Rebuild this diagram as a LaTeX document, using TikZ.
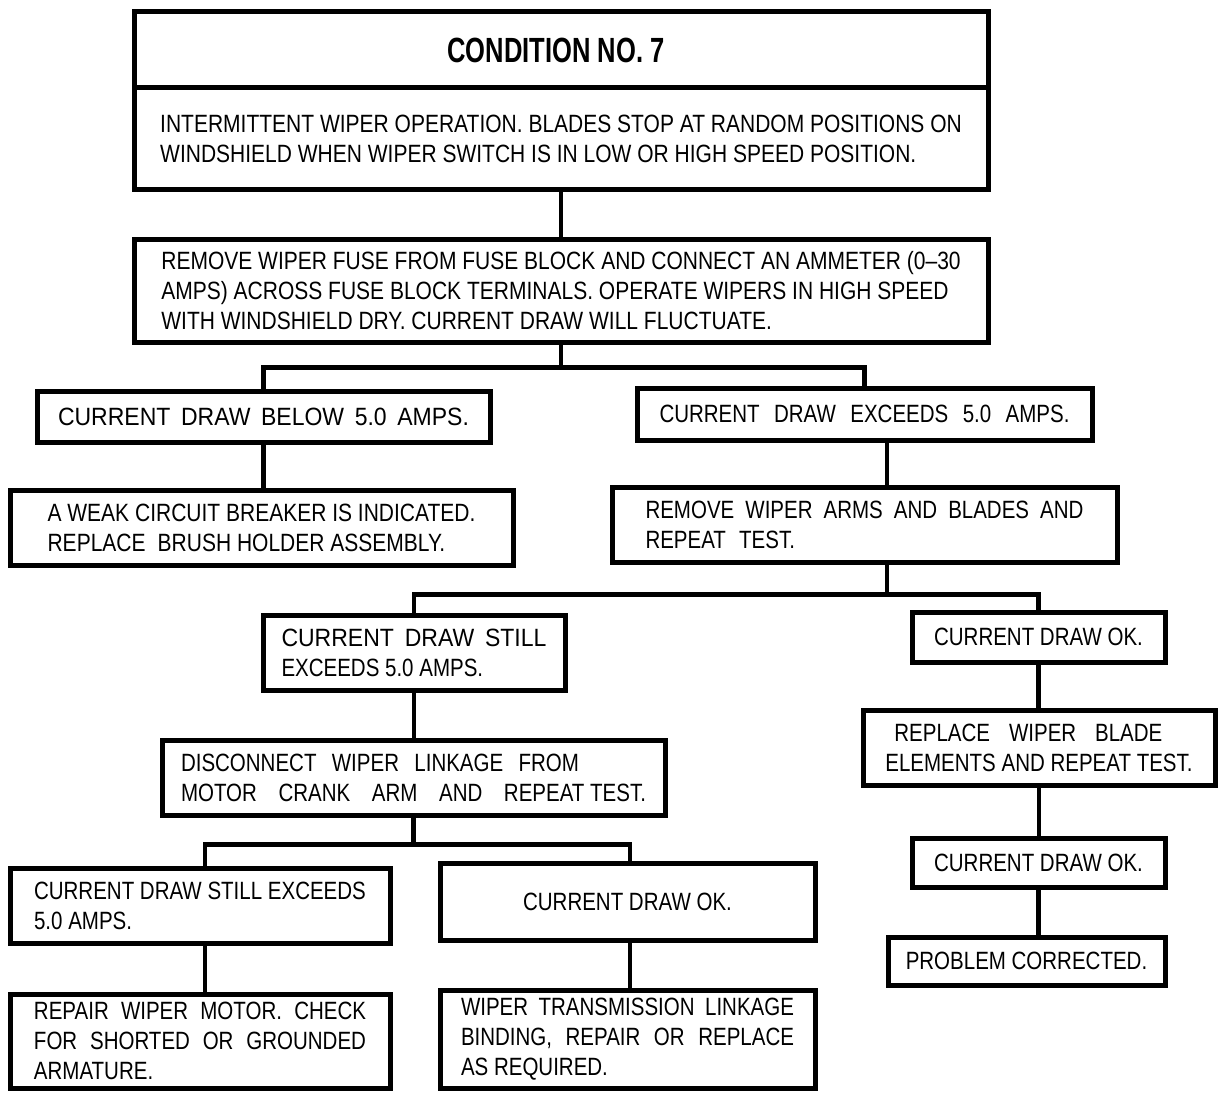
\documentclass[tikz,border=0pt]{standalone}
\usepackage{fontspec}
\newfontfamily\bodyfont[FakeStretch=0.82]{Liberation Sans}
\newfontfamily\midfont[FakeStretch=0.84]{Liberation Sans}
\newfontfamily\widefont[FakeStretch=0.92]{Liberation Sans}
\newfontfamily\titlefont[FakeStretch=0.73]{Liberation Sans}
\newcommand\jl[2]{\makebox[#1pt][s]{#2}}
\begin{document}
\begin{tikzpicture}[x=1pt,y=-1pt,
  box/.style={draw, line width=5pt, rectangle, inner sep=0pt, align=left,
    font=\bodyfont\fontsize{25}{30}\selectfont},
  midbox/.style={box, font=\midfont\fontsize{25}{30}\selectfont},
  widebox/.style={box, font=\widefont\fontsize{25}{30}\selectfont},
  link/.style={line width=4.5pt}]
\useasboundingbox (0,0) rectangle (1232,1102);
\fill[white] (0,0) rectangle (1232,1102);
% top
\node[box, minimum width=854pt, minimum height=76pt, font=\titlefont\bfseries\fontsize{35}{40}\selectfont] (t) at (561,50) {CONDITION NO. 7\hspace*{10pt}};
\node[midbox, minimum width=854pt, minimum height=102pt] (d) at (561,139)
  {INTERMITTENT WIPER OPERATION. BLADES STOP AT RANDOM POSITIONS ON\\WINDSHIELD WHEN WIPER SWITCH IS IN LOW OR HIGH SPEED POSITION.};
\node[midbox, minimum width=854pt, minimum height=102pt] (f) at (561,291)
  {REMOVE WIPER FUSE FROM FUSE BLOCK AND CONNECT AN AMMETER (0–30\\AMPS) ACROSS FUSE BLOCK TERMINALS. OPERATE WIPERS IN HIGH SPEED\\WITH WINDSHIELD DRY. CURRENT DRAW WILL FLUCTUATE.};
% level 2
\node[widebox, minimum width=453pt, minimum height=51pt] (b) at (263.5,416.5)
  {\jl{411}{CURRENT DRAW BELOW 5.0 AMPS.}};
\node[box, minimum width=455pt, minimum height=52pt] (e) at (864.5,414)
  {\jl{410}{CURRENT DRAW EXCEEDS 5.0 AMPS.}};
\node[midbox, minimum width=503pt, minimum height=75pt] (w) at (261.5,527.5)
  {A WEAK CIRCUIT BREAKER IS INDICATED.\\REPLACE\hspace{0.25em} BRUSH HOLDER ASSEMBLY.};
\node[box, minimum width=505pt, minimum height=75pt] (r) at (864.5,524.5)
  {\jl{438}{REMOVE WIPER ARMS AND BLADES AND}\\REPEAT\hspace{0.3em} TEST.};
% level 3
\node[box, minimum width=302pt, minimum height=75pt] (s) at (414,652.5)
  {{\widefont\jl{265}{CURRENT DRAW STILL}}\\EXCEEDS 5.0 AMPS.};
\node[box, minimum width=253pt, minimum height=50pt] (o1) at (1038.5,637)
  {CURRENT DRAW OK.};
\node[box, minimum width=503pt, minimum height=75pt] (dc) at (413.5,777.5)
  {\jl{398}{DISCONNECT WIPER LINKAGE FROM}\\\jl{465}{MOTOR CRANK ARM AND \mbox{REPEAT TEST.}}};
\node[box, minimum width=352pt, minimum height=75pt] (rb) at (1039,747.5)
  {\hspace*{9pt}\jl{268}{REPLACE WIPER BLADE}\\ELEMENTS AND REPEAT TEST.};
\node[box, minimum width=253pt, minimum height=49pt] (o2) at (1038.5,862.5)
  {CURRENT DRAW OK.};
\node[box, minimum width=277pt, minimum height=48pt] (p) at (1026.5,961)
  {PROBLEM CORRECTED.};
% level 4
\node[box, minimum width=380pt, minimum height=75pt] (s2) at (200,905.5)
  {CURRENT DRAW STILL EXCEEDS\\5.0 AMPS.};
\node[box, minimum width=375pt, minimum height=77pt] (o3) at (627.5,901.5)
  {CURRENT DRAW OK.};
\node[box, minimum width=380pt, minimum height=94pt] (rp) at (200,1041)
  {\jl{332}{REPAIR WIPER MOTOR. CHECK}\\\jl{332}{FOR SHORTED OR GROUNDED}\\ARMATURE.};
\node[box, minimum width=375pt, minimum height=98pt] (tr) at (627.5,1039)
  {\jl{333}{WIPER TRANSMISSION LINKAGE}\\\jl{333}{BINDING, REPAIR OR REPLACE}\\AS REQUIRED.};
% connectors
\draw[link] (d.south) -- (f.north);
\draw[link] (f.south) -- ++(0,23) coordinate (j1);
\draw[link] (b.north) |- (j1) -| (e.north);
\draw[link] (b.south) -- (b.south |- w.north);
\draw[link] ([xshift=22.5pt]e.south) -- ([xshift=22.5pt]e.south |- r.north);
\draw[link] ([xshift=22.5pt]r.south) -- ++(0,30) coordinate (j2);
\draw[link] (s.north) |- (j2) -| (o1.north);
\draw[link] (s.south) -- (s.south |- dc.north);
\draw[link] (o1.south) -- (o1.south |- rb.north);
\draw[link] (rb.south) -- (rb.south |- o2.north);
\draw[link] (o2.south) -- (o2.south |- p.north);
\draw[link] (dc.south) -- ++(0,27) coordinate (j3);
\draw[link] ([xshift=5pt]s2.north) |- (j3) -| ([xshift=2.5pt]o3.north);
\draw[link] ([xshift=5pt]s2.south) -- ([xshift=5pt]s2.south |- rp.north);
\draw[link] ([xshift=2.5pt]o3.south) -- ([xshift=2.5pt]o3.south |- tr.north);
\end{tikzpicture}
\end{document}
